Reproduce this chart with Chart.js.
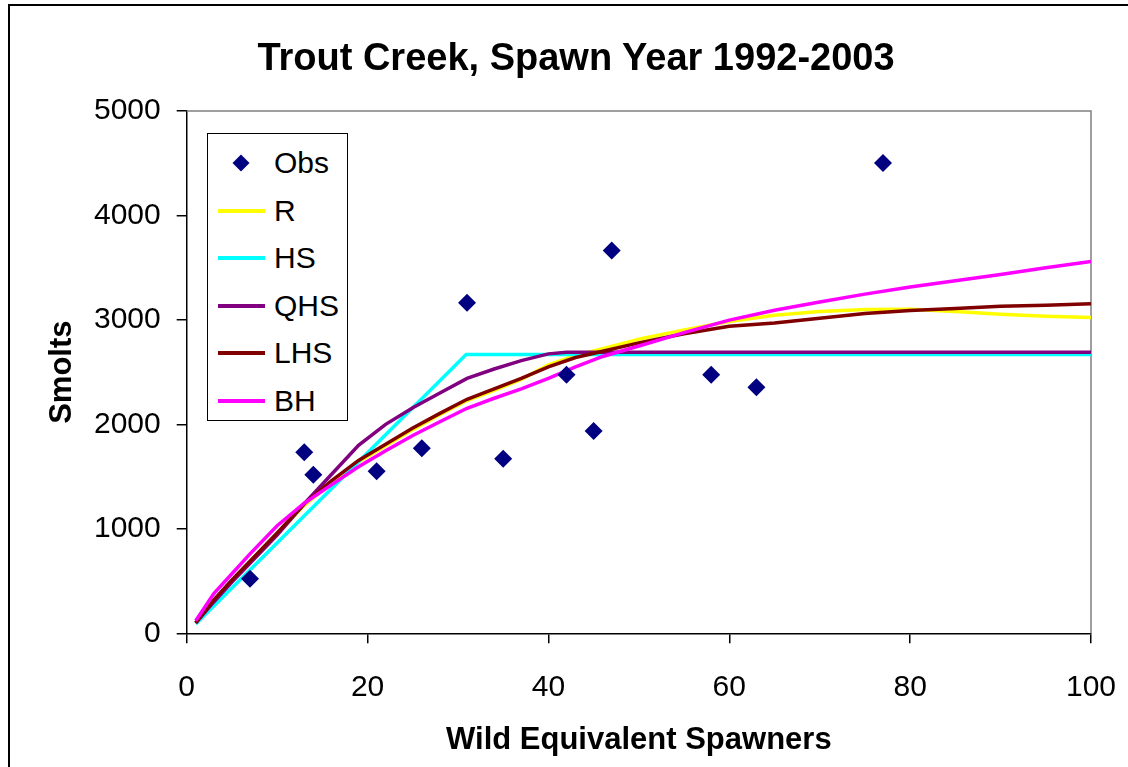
<!DOCTYPE html>
<html>
<head>
<meta charset="utf-8">
<script src="https://cdn.jsdelivr.net/npm/chart.js@4.4.0/dist/chart.umd.min.js"></script>
<style>
    html, body { margin: 0; padding: 0; background: #fff; }
    body { width: 1128px; height: 767px; position: relative; overflow: hidden; font-family: Arial, "Liberation Sans", sans-serif; }
    #frame { position: absolute; left: 8px; top: 4px; width: 1200px; height: 900px; border: 2px solid #000; }
    #chart { position: absolute; left: 0; top: 0; }
    #title { position: absolute; left: 0; width: 1152px; top: 34px; text-align: center; font-weight: bold; font-size: 38px; line-height: 46px; color: #000; }
    #legend { position: absolute; left: 207px; top: 133px; width: 139px; height: 286px; border: 1.5px solid #000; background: #fff; }
    .item { position: absolute; left: 0; height: 40px; width: 139px; }
    .item .swatch { position: absolute; left: 10px; top: 18px; width: 47px; height: 4px; }
    .item .dia { position: absolute; left: 27px; top: 14px; width: 12px; height: 12px; background: #000080; transform: rotate(45deg); }
    .item .lbl { position: absolute; left: 66px; top: 0; font-size: 30px; line-height: 40px; color: #000; }
</style>
</head>
<body>
<div id="frame"></div>
<canvas id="chart" width="1128" height="767"></canvas>
<div id="title">Trout Creek, Spawn Year 1992-2003</div>
<div id="legend"></div>
<script>
// observed points
const obsX = [7, 13, 14, 21, 26, 31, 35, 42, 45, 47, 58, 63, 77];
const obsY = [522, 1734, 1519, 1551, 1772, 3165, 1671, 2475, 1937, 3665, 2475, 2355, 4503];

// fitted curves share one spawner grid
const curveX = [1, 3, 5, 7, 10, 13, 16, 19, 22, 25, 28, 31, 34, 37, 40, 43, 46, 50, 55, 60, 65, 70, 75, 80, 85, 90, 95, 100];
const rY   = [100, 310, 500, 680, 950, 1225, 1445, 1640, 1795, 1950, 2095, 2228, 2325, 2430, 2570, 2660, 2725, 2815, 2905, 2985, 3045, 3080, 3100, 3102, 3080, 3055, 3035, 3022];
const lhsY = [100, 320, 510, 690, 960, 1240, 1460, 1655, 1810, 1965, 2105, 2240, 2340, 2440, 2550, 2640, 2700, 2780, 2868, 2940, 2970, 3015, 3062, 3090, 3110, 3130, 3140, 3155];
const bhY  = [120, 380, 570, 760, 1030, 1245, 1421, 1594, 1747, 1893, 2025, 2154, 2250, 2340, 2440, 2550, 2650, 2750, 2878, 2998, 3092, 3172, 3247, 3315, 3375, 3435, 3500, 3560];
const qhsX = [1, 3, 5, 7, 10, 13, 16, 19, 22, 25, 28, 31, 34, 37, 40, 42, 100];
const qhsY = [100, 300, 490, 670, 940, 1240, 1520, 1800, 2000, 2160, 2300, 2440, 2530, 2610, 2675, 2690, 2690];
const hsX  = [1, 30.9, 100];
const hsY  = [90, 2670, 2670];

const xTicks = [0, 20, 40, 60, 80, 100];
const yTicks = [0, 1000, 2000, 3000, 4000, 5000];

const FONT = 'Arial, "Liberation Sans", sans-serif';
Chart.defaults.font.family = FONT;
Chart.defaults.color = '#000';

const pts = (xs, ys) => xs.map((x, i) => ({ x: x, y: ys[i] }));

const series = [
    { label: 'Obs', color: '#000080', data: pts(obsX, obsY), marker: true, order: 0 },
    { label: 'R',   color: '#FFFF00', data: pts(curveX, rY),   order: 5 },
    { label: 'HS',  color: '#00FFFF', data: pts(hsX, hsY),     order: 4 },
    { label: 'QHS', color: '#800080', data: pts(qhsX, qhsY),   order: 3 },
    { label: 'LHS', color: '#800000', data: pts(curveX, lhsY), order: 2 },
    { label: 'BH',  color: '#FF00FF', data: pts(curveX, bhY),  order: 1 }
];

const datasets = series.map(s => s.marker ? {
    label: s.label,
    data: s.data,
    showLine: false,
    pointStyle: 'rectRot',
    pointRadius: 9,
    pointBackgroundColor: s.color,
    pointBorderColor: s.color,
    pointBorderWidth: 0,
    order: s.order
} : {
    label: s.label,
    data: s.data,
    showLine: true,
    borderColor: s.color,
    borderWidth: 3.5,
    pointRadius: 0,
    fill: false,
    tension: 0,
    order: s.order
});

// gray top/right edge of the plot box
const plotFrame = {
    id: 'plotFrame',
    beforeDatasetsDraw(chart) {
        const { ctx, chartArea: a } = chart;
        ctx.save();
        ctx.strokeStyle = '#808080';
        ctx.lineWidth = 1.5;
        ctx.beginPath();
        ctx.moveTo(a.left, a.top);
        ctx.lineTo(a.right, a.top);
        ctx.lineTo(a.right, a.bottom);
        ctx.stroke();
        ctx.restore();
    }
};

new Chart(document.getElementById('chart').getContext('2d'), {
    type: 'scatter',
    data: { datasets: datasets },
    options: {
        responsive: false,
        animation: false,
        devicePixelRatio: 1,
        layout: { padding: { left: 0, top: 111, right: 37, bottom: 0 } },
        plugins: {
            legend: { display: false },
            tooltip: { enabled: false },
            title: { display: false }
        },
        scales: {
            x: {
                type: 'linear',
                min: 0,
                max: 100,
                afterFit: (s) => { s.height = 133.7; s.paddingLeft = 0; s.paddingRight = 0; },
                afterBuildTicks: (s) => { s.ticks = xTicks.map(v => ({ value: v })); },
                ticks: { font: { size: 30 }, color: '#000', padding: 26, callback: (v) => String(v) },
                grid: { drawOnChartArea: false, drawTicks: true, tickLength: 10, color: '#000', lineWidth: 1.5 },
                border: { display: true, color: '#000', width: 1.5 },
                title: { display: true, text: 'Wild Equivalent Spawners', font: { size: 31, weight: 'bold' }, color: '#000', padding: { top: 0, bottom: 8 } }
            },
            y: {
                min: 0,
                max: 5000,
                afterFit: (s) => { s.width = 186.7; s.paddingTop = 0; s.paddingBottom = 0; },
                afterBuildTicks: (s) => { s.ticks = yTicks.map(v => ({ value: v })); },
                ticks: { font: { size: 30 }, color: '#000', padding: 16, callback: (v) => String(v) },
                grid: { drawOnChartArea: false, drawTicks: true, tickLength: 10, color: '#000', lineWidth: 1.5 },
                border: { display: true, color: '#000', width: 1.5 },
                title: { display: true, text: 'Smolts', font: { size: 31, weight: 'bold' }, color: '#000', padding: { top: 44, bottom: 0 } }
            }
        }
    },
    plugins: [plotFrame]
});

// legend box drawn as html, same entries as the datasets
const legend = document.getElementById('legend');
series.forEach((s, i) => {
    const row = document.createElement('div');
    row.className = 'item';
    row.style.top = (9 + i * 47.6) + 'px';
    const mark = document.createElement('span');
    if (s.marker) {
        mark.className = 'dia';
    } else {
        mark.className = 'swatch';
        mark.style.background = s.color;
    }
    const lbl = document.createElement('span');
    lbl.className = 'lbl';
    lbl.textContent = s.label;
    row.appendChild(mark);
    row.appendChild(lbl);
    legend.appendChild(row);
});
</script>
</body>
</html>
